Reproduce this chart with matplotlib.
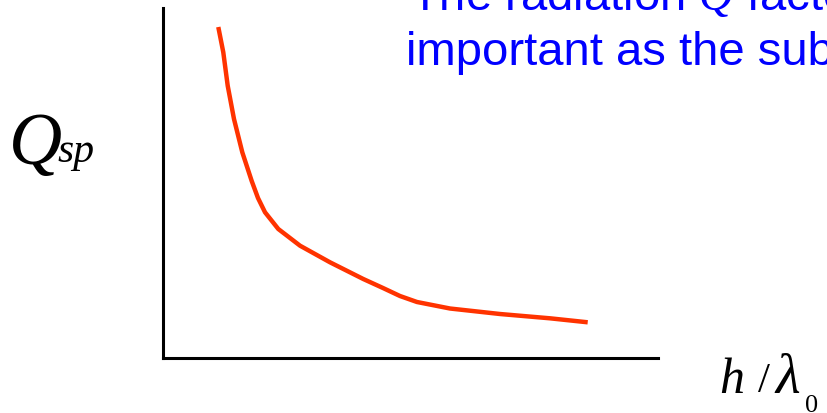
import matplotlib
matplotlib.use("Agg")
import matplotlib.pyplot as plt

plt.rcParams['mathtext.fontset'] = 'custom'
plt.rcParams['mathtext.it'] = 'Liberation Serif:italic'
plt.rcParams['mathtext.rm'] = 'Liberation Sans'

# Curve values (arbitrary 0-10 units, no ticks shown)
h_over_lambda = [1.117, 1.218, 1.307, 1.434, 1.602, 1.792, 1.919, 2.061, 2.329, 2.768,
                 3.374, 4.046, 4.444, 4.788, 5.131, 5.798, 6.808, 7.818, 8.580]
q_sp = [9.457, 8.734, 7.780, 6.829, 5.877, 5.057, 4.571, 4.163, 3.686, 3.209,
        2.734, 2.257, 2.000, 1.771, 1.600, 1.414, 1.257, 1.134, 1.020]

W, H = 828, 414
fig = plt.figure(figsize=(W / 100, H / 100), dpi=100)
ax = fig.add_axes([163 / W, (H - 359) / H, (658 - 163) / W, (359 - 9) / H])
ax.plot(h_over_lambda, q_sp, color='#FF3300', lw=3.2, solid_capstyle='butt',
        solid_joinstyle='round')
ax.set_xlim(0, 10)
ax.set_ylim(0, 10)
ax.set_xticks([])
ax.set_yticks([])
for s in ('top', 'right'):
    ax.spines[s].set_visible(False)
for s in ('left', 'bottom'):
    ax.spines[s].set_linewidth(2.2)
    ax.spines[s].set_color('black')


def fx(px):
    return px / W


def fy(py):
    return 1 - py / H


# Y label Q_sp
fig.text(fx(9), fy(164), 'Q', family='Liberation Serif', style='italic', fontsize=53,
         ha='left', va='baseline')
fig.text(fx(57), fy(162), 'sp', family='Liberation Serif', style='italic', fontsize=30,
         ha='left', va='baseline')

# X label h / lambda_0
fig.text(fx(719), fy(393), 'h', family='Liberation Serif', style='italic', fontsize=36,
         ha='left', va='baseline')
fig.text(fx(758), fy(392), '/', family='Liberation Serif', fontsize=31,
         ha='left', va='baseline')
fig.text(fx(775), fy(393), 'λ', family='Liberation Serif', style='italic', fontsize=41,
         ha='left', va='baseline')
fig.text(fx(805), fy(412), '0', family='Liberation Serif', fontsize=19,
         ha='left', va='baseline')

# Blue annotation text (cut off at the right edge)
fig.text(fx(410), fy(10), r'The radiation $Q$ factor becomes', family='Liberation Sans',
         fontsize=34, color='#0000FF', ha='left', va='baseline')
fig.text(fx(406), fy(65), 'important as the substrate', family='Liberation Sans',
         fontsize=34, color='#0000FF', ha='left', va='baseline')

fig.savefig('out.png', dpi=100)
